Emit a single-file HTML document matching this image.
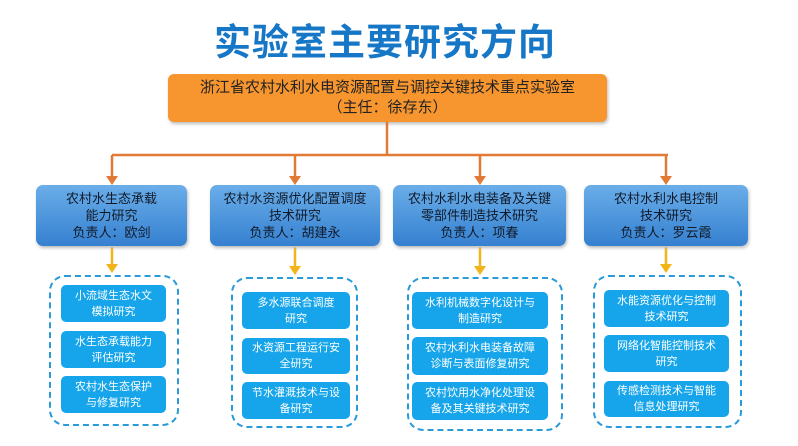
<!DOCTYPE html>
<html><head><meta charset="utf-8"><style>
body{margin:0;width:798px;height:446px;background:#fff;position:relative;overflow:hidden;font-family:"Liberation Sans","Noto Sans CJK SC",sans-serif}
.a{position:absolute}
.t{left:0;width:770px;top:12px;text-align:center;font-size:37px;font-weight:bold;color:#1677c7;letter-spacing:1px}
.o{left:168px;top:74px;width:439px;height:48px;background:#f7962e;border-radius:6px;box-shadow:1px 2px 3px #bbb;text-align:center;font-size:15px;line-height:20px;color:#222;padding-top:4px;box-sizing:border-box}
.h{top:185px;height:61px;border-radius:7px;background:linear-gradient(#6aaee9,#3580d0);box-shadow:1px 2px 3px #bbb;text-align:center;font-size:13px;line-height:17px;color:#111a2a;padding-top:5px;box-sizing:border-box}
.d{border:2px dashed #2a9ad8;border-radius:16px;box-sizing:border-box}
.b{background:#16a5ea;border-radius:5px;color:#fff;font-size:11px;line-height:16px;text-align:center;display:flex;align-items:center;justify-content:center;box-sizing:border-box;white-space:nowrap}
</style></head><body>
<div class="a t">实验室主要研究方向</div>
<div class="a o">浙江省农村水利水电资源配置与调控关键技术重点实验室<br>（主任：徐存东）</div>
<svg class="a" style="left:0;top:0" width="798" height="446">
<g stroke="#e07a35" stroke-width="2.5" fill="none">
<path d="M387 122V155M112 155H668M112 155V180M295 155V180M480 155V180M666 155V180"/></g>
<g fill="#e07a35"><path d="M106 176l6 9 6-9z"/><path d="M289 176l6 9 6-9z"/><path d="M474 176l6 9 6-9z"/><path d="M660 176l6 9 6-9z"/></g>
<g stroke="#f2b418" stroke-width="2.5"><path d="M112 247V266M295 247V268M480 247V268M666 247V266"/></g>
<g fill="#f2b418"><path d="M106 264l6 9 6-9z"/><path d="M289 266l6 9 6-9z"/><path d="M474 266l6 9 6-9z"/><path d="M660 264l6 9 6-9z"/></g>
</svg>
<div class="a h" style="left:36px;width:151px">农村水生态承载<br>能力研究<br>负责人：欧剑</div>
<div class="a h" style="left:210px;width:170px">农村水资源优化配置调度<br>技术研究<br>负责人：胡建永</div>
<div class="a h" style="left:393px;width:173px">农村水利水电装备及关键<br>零部件制造技术研究<br>负责人：项春</div>
<div class="a h" style="left:584px;width:164px">农村水利水电控制<br>技术研究<br>负责人：罗云霞</div>
<div class="a d" style="left:49px;top:275px;width:130px;height:151px"></div>
<div class="a d" style="left:231px;top:277px;width:127px;height:151px"></div>
<div class="a d" style="left:407px;top:277px;width:156px;height:154px"></div>
<div class="a d" style="left:593px;top:275px;width:149px;height:153px"></div>
<div class="a b" style="left:61px;top:285px;width:105px;height:37px">小流域生态水文<br>模拟研究</div>
<div class="a b" style="left:61px;top:331px;width:105px;height:37px">水生态承载能力<br>评估研究</div>
<div class="a b" style="left:61px;top:376px;width:105px;height:37px">农村水生态保护<br>与修复研究</div>
<div class="a b" style="left:242px;top:292px;width:108px;height:37px">多水源联合调度<br>研究</div>
<div class="a b" style="left:242px;top:338px;width:108px;height:36px">水资源工程运行安<br>全研究</div>
<div class="a b" style="left:242px;top:382px;width:108px;height:37px">节水灌溉技术与设<br>备研究</div>
<div class="a b" style="left:412px;top:292px;width:136px;height:37px">水利机械数字化设计与<br>制造研究</div>
<div class="a b" style="left:412px;top:337px;width:136px;height:38px">农村水利水电装备故障<br>诊断与表面修复研究</div>
<div class="a b" style="left:412px;top:382px;width:136px;height:38px">农村饮用水净化处理设<br>备及其关键技术研究</div>
<div class="a b" style="left:604px;top:290px;width:125px;height:37px">水能资源优化与控制<br>技术研究</div>
<div class="a b" style="left:604px;top:335px;width:125px;height:37px">网络化智能控制技术<br>研究</div>
<div class="a b" style="left:604px;top:381px;width:125px;height:36px">传感检测技术与智能<br>信息处理研究</div>
</body></html>
